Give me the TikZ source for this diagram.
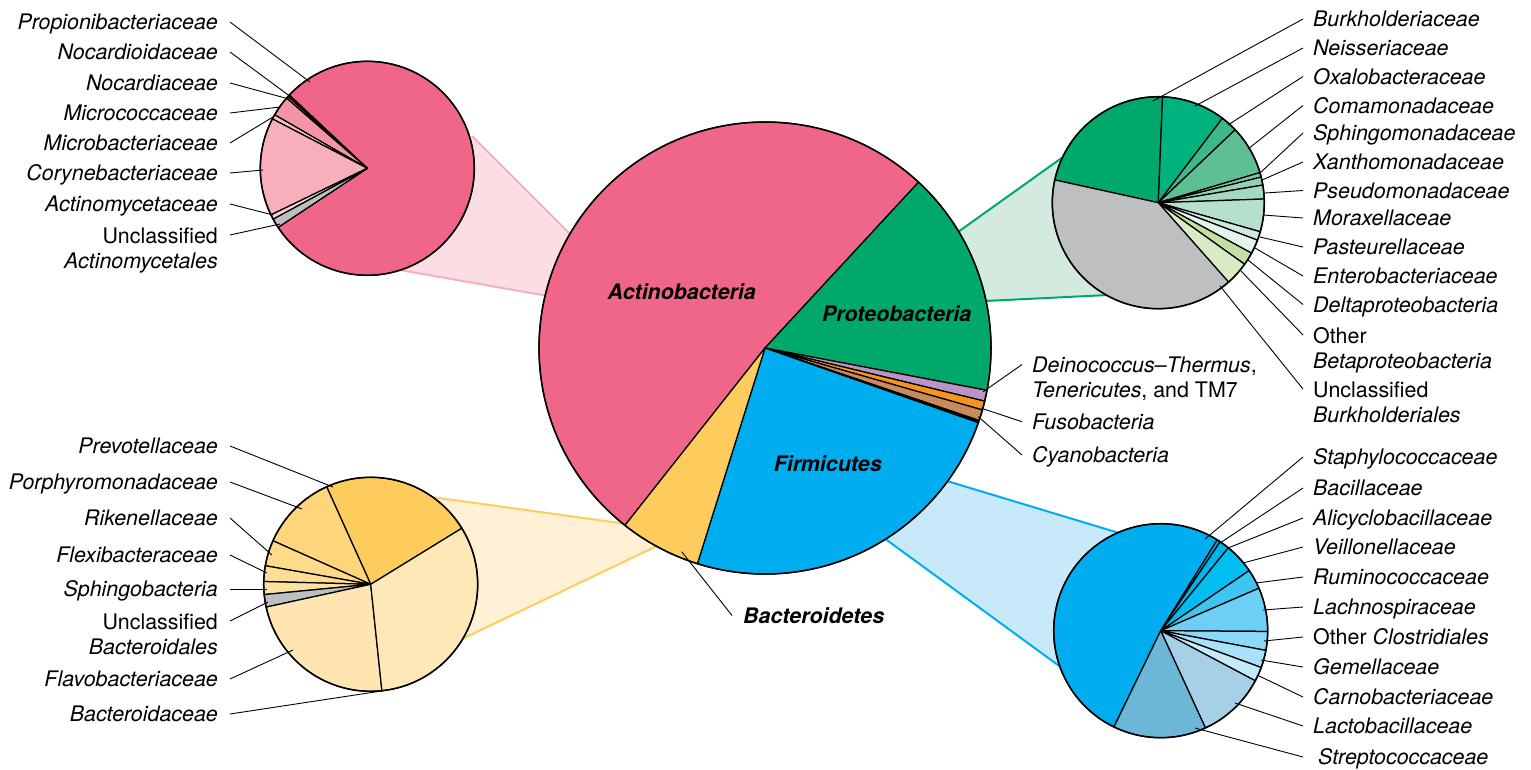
\documentclass[tikz,border=0pt]{standalone}
\usepackage{fontspec}
\setmainfont{TeX Gyre Heros}
\usetikzlibrary{calc}
% central
\definecolor{actino}{HTML}{F06689}
\definecolor{proteo}{HTML}{00A86B}
\definecolor{firmi}{HTML}{00AEEF}
\definecolor{bactero}{HTML}{FECC5C}
\definecolor{deino}{HTML}{B995C5}
\definecolor{fuso}{HTML}{F7941D}
\definecolor{cyano}{HTML}{C98B5B}
\definecolor{greyslice}{HTML}{BEBFC1}
% actino pie
\definecolor{propi}{HTML}{F06689}
\definecolor{noca}{HTML}{F48FA4}
\definecolor{micrococ}{HTML}{F593A7}
\definecolor{microbac}{HTML}{F9C0CB}
\definecolor{coryne}{HTML}{F7AFBB}
\definecolor{actinom}{HTML}{FAD0D8}
% proteo pie
\definecolor{burk}{HTML}{00A86B}
\definecolor{neis}{HTML}{00B27E}
\definecolor{oxal}{HTML}{3CB88A}
\definecolor{coma}{HTML}{5EBF95}
\definecolor{sphingo}{HTML}{7CC8A4}
\definecolor{xantho}{HTML}{93D1B3}
\definecolor{pseudo}{HTML}{A5D8C0}
\definecolor{morax}{HTML}{B6E0CC}
\definecolor{paste}{HTML}{D0EBDE}
\definecolor{entero}{HTML}{E5F3EC}
\definecolor{delta}{HTML}{C3DFA4}
\definecolor{obeta}{HTML}{D9EBC5}
% bactero pie
\definecolor{prevo}{HTML}{FECC5C}
\definecolor{porph}{HTML}{FED57B}
\definecolor{riken}{HTML}{FEDA8A}
\definecolor{flexi}{HTML}{FEDD95}
\definecolor{sphb}{HTML}{FEE09F}
\definecolor{flavo}{HTML}{FEE5B2}
\definecolor{bacda}{HTML}{FEE8B8}
% firmi pie
\definecolor{staph}{HTML}{00AEEF}
\definecolor{bacil}{HTML}{00B0EF}
\definecolor{alicy}{HTML}{00B5EF}
\definecolor{veill}{HTML}{00BDF2}
\definecolor{rumi}{HTML}{3EC5F3}
\definecolor{lachno}{HTML}{6DCFF6}
\definecolor{oclos}{HTML}{8BD8F7}
\definecolor{gemel}{HTML}{A8E1F9}
\definecolor{carno}{HTML}{C5EBFA}
\definecolor{lacto}{HTML}{A5D0E5}
\definecolor{strep}{HTML}{6CB6D6}
% wedges
\definecolor{pinkfill}{HTML}{FCDDE3}
\definecolor{pinkline}{HTML}{F7AEBE}
\definecolor{greenfill}{HTML}{D2EBDE}
\definecolor{greenline}{HTML}{00A86B}
\definecolor{yelfill}{HTML}{FFF0D6}
\definecolor{yelline}{HTML}{FDCD5D}
\definecolor{bluefill}{HTML}{C8E9F8}
\definecolor{blueline}{HTML}{00AEEF}

\newcommand{\slc}[5]{\filldraw[slice,fill=#5] (#1) -- ++(#2:#4) arc[start angle=#2, end angle=#3, radius=#4] -- cycle;}
\newcommand{\rlab}[4]{\node[labR] (#1) at (1313,-#2) {#3};\coordinate (#1p) at (#4);\draw[leader] ([xshift=-10pt]#1.west) -- (#1p);}
\newcommand{\llab}[4]{\node[labL] (#1) at (218,-#2) {#3};\coordinate (#1p) at (#4);\draw[leader] ([xshift=12pt]#1.east) -- (#1p);}

\begin{document}
\begin{tikzpicture}[x=1pt,y=1pt,
  slice/.style={draw=black,line width=1.25pt,line join=round},
  rim/.style={draw=black,line width=1.5pt},
  leader/.style={draw=black,line width=0.9pt},
  lab/.style={font=\fontsize{21.4}{25}\selectfont\itshape, inner sep=0pt, text height=15pt, text depth=0pt},
  labR/.style={lab, anchor=west},
  labL/.style={lab, anchor=east},
  ml/.style={font=\fontsize{21.4}{25}\selectfont, inner sep=0pt},
  big/.style={font=\fontsize{21.4}{25}\selectfont\bfseries\itshape, inner sep=0pt},
  wedge/.style={line width=2pt}
]
\useasboundingbox (0,0) rectangle (1531,-769);

\coordinate (C) at (765,-348);
\coordinate (TL) at (367.3,-168.3);
\coordinate (TR) at (1158.3,-202.7);
\coordinate (BL) at (370.7,-584.3);
\coordinate (BR) at (1160.7,-630.7);

% ---------- wedges ----------
\coordinate (wp1) at (472,-136);
\coordinate (wp2) at (572,-236);
\coordinate (wp3) at (548,-296);
\coordinate (wp4) at (400,-270);
\fill[pinkfill] (wp1) -- (wp2) -- (wp3) -- (wp4) -- cycle;
\draw[wedge,pinkline] (wp1) -- (wp2) (wp4) -- (wp3);

\coordinate (wg1) at (1062,-157.7);
\coordinate (wg2) at (958,-232);
\coordinate (wg3) at (985,-301);
\coordinate (wg4) at (1108,-295);
\fill[greenfill] (wg1) -- (wg2) -- (wg3) -- (wg4) -- cycle;
\draw[wedge,greenline] (wg1) -- (wg2) (wg4) -- (wg3);

\coordinate (wy1) at (432,-497);
\coordinate (wy2) at (627,-524);
\coordinate (wy3) at (659,-545);
\coordinate (wy4) at (462,-639);
\fill[yelfill] (wy1) -- (wy2) -- (wy3) -- (wy4) -- cycle;
\draw[wedge,yelline] (wy1) -- (wy2) (wy4) -- (wy3);

\coordinate (wb1) at (1120,-533.3);
\coordinate (wb2) at (947,-481);
\coordinate (wb3) at (884,-538);
\coordinate (wb4) at (1062,-668);
\fill[bluefill] (wb1) -- (wb2) -- (wb3) -- (wb4) -- cycle;
\draw[wedge,blueline] (wb1) -- (wb2) (wb4) -- (wb3);

% ---------- central pie ----------
\slc{C}{47.2}{231.7}{226}{actino}
\slc{C}{-10.8}{47.2}{226}{proteo}
\slc{C}{-13.6}{-10.8}{226}{deino}
\slc{C}{-15.9}{-13.6}{226}{fuso}
\slc{C}{-18.7}{-15.9}{226}{cyano}
\slc{C}{-19.3}{-18.7}{226}{black}
\slc{C}{-107.4}{-19.3}{226}{firmi}
\slc{C}{-128.3}{-107.4}{226}{bactero}
\draw[rim] (C) circle[radius=226];

% ---------- Actinobacteria pie ----------
\slc{TL}{-146.5}{136.8}{107}{propi}
\slc{TL}{136.8}{137.8}{107}{propi}
\slc{TL}{137.8}{139}{107}{noca}
\slc{TL}{139}{150}{107}{micrococ}
\slc{TL}{150}{152.5}{107}{microbac}
\slc{TL}{152.5}{205.8}{107}{coryne}
\slc{TL}{205.8}{208.4}{107}{actinom}
\slc{TL}{208.4}{213.5}{107}{greyslice}
\draw[rim] (TL) circle[radius=107];

% ---------- Proteobacteria pie ----------
\slc{TR}{87.7}{167.6}{106}{burk}
\slc{TR}{52.8}{87.7}{106}{neis}
\slc{TR}{43.5}{52.8}{106}{oxal}
\slc{TR}{16.5}{43.5}{106}{coma}
\slc{TR}{14}{16.5}{106}{sphingo}
\slc{TR}{9.6}{14}{106}{xantho}
\slc{TR}{2}{9.6}{106}{pseudo}
\slc{TR}{-15.9}{2}{106}{morax}
\slc{TR}{-20.7}{-15.9}{106}{paste}
\slc{TR}{-28.4}{-20.7}{106}{entero}
\slc{TR}{-35.5}{-28.4}{106}{delta}
\slc{TR}{-48.5}{-35.5}{106}{obeta}
\slc{TR}{167.6}{311.5}{106}{greyslice}
\draw[rim] (TR) circle[radius=106];

% ---------- Bacteroidetes pie ----------
\slc{BL}{31.6}{114.3}{107}{prevo}
\slc{BL}{114.3}{156}{107}{porph}
\slc{BL}{156}{170}{107}{riken}
\slc{BL}{170}{178.5}{107}{flexi}
\slc{BL}{178.5}{185.5}{107}{sphb}
\slc{BL}{185.5}{192.3}{107}{greyslice}
\slc{BL}{192.3}{276}{107}{flavo}
\slc{BL}{-84}{31.6}{107}{bacda}
\draw[rim] (BL) circle[radius=107];

% ---------- Firmicutes pie ----------
\slc{BR}{58.1}{244.1}{107}{staph}
\slc{BR}{56.3}{58.1}{107}{bacil}
\slc{BR}{50.8}{56.3}{107}{alicy}
\slc{BR}{34.2}{50.8}{107}{veill}
\slc{BR}{23.4}{34.2}{107}{rumi}
\slc{BR}{-0.4}{23.4}{107}{lachno}
\slc{BR}{-10.6}{-0.4}{107}{oclos}
\slc{BR}{-20.1}{-10.6}{107}{gemel}
\slc{BR}{-27.9}{-20.1}{107}{carno}
\slc{BR}{-65.3}{-27.9}{107}{lacto}
\slc{BR}{-115.9}{-65.3}{107}{strep}
\draw[rim] (BR) circle[radius=107];

% ---------- central labels ----------
\node[big] (actL) at (681.7,-291.7) {Actinobacteria};
\node[big] (proL) at (896.7,-314) {Proteobacteria};
\node[big] (firL) at (827.7,-463.3) {Firmicutes};
\node[big, anchor=west, text height=15pt, text depth=0pt] (bacL) at (743,-615.5) {Bacteroidetes};
\coordinate (bacLp) at (681.7,-551.7);
\draw[leader] ([xshift=-11pt]bacL.west) -- (bacLp);

\node[ml, anchor=north west, align=left] (deiL) at (1032,-356.5) {\textit{Deinococcus–Thermus},\\\textit{Tenericutes}, and TM7};
\coordinate (deiLp) at (983.3,-391.7);
\draw[leader] ([xshift=-10pt,yshift=-8pt]deiL.north west) -- (deiLp);
\node[labR] (fusL) at (1032,-421.7) {Fusobacteria};
\coordinate (fusLp) at (981.7,-408.3);
\draw[leader] ([xshift=-10pt]fusL.west) -- (fusLp);
\node[labR] (cyaL) at (1032,-455) {Cyanobacteria};
\coordinate (cyaLp) at (978.3,-416.7);
\draw[leader] ([xshift=-10pt]cyaL.west) -- (cyaLp);

% ---------- Actinobacteria labels ----------
\llab{lPropi}{22}{Propionibacteriaceae}{310,-82}
\llab{lNocd}{52}{Nocardioidaceae}{291,-97}
\llab{lNoca}{83}{Nocardiaceae}{289,-99}
\llab{lMicc}{113}{Micrococcaceae}{280,-107}
\llab{lMicb}{143}{Microbacteriaceae}{273,-117}
\llab{lCory}{173}{Corynebacteriaceae}{263,-170}
\llab{lActm}{204}{Actinomycetaceae}{273,-215}
\node[ml, anchor=north east, align=right] (lUnA) at (218,-227.5) {Unclassified\\\textit{Actinomycetales}};
\coordinate (lUnAp) at (280,-224);
\draw[leader] ([xshift=12pt,yshift=-7.5pt]lUnA.north east) -- (lUnAp);

% ---------- Proteobacteria labels ----------
\rlab{rBurk}{19}{Burkholderiaceae}{1153,-101}
\rlab{rNeis}{48}{Neisseriaceae}{1195,-106}
\rlab{rOxal}{76.5}{Oxalobacteraceae}{1228,-125}
\rlab{rComa}{105.5}{Comamonadaceae}{1248,-149}
\rlab{rSphi}{133}{Sphingomonadaceae}{1260,-173}
\rlab{rXant}{162}{Xanthomonadaceae}{1262,-180}
\rlab{rPseu}{190.5}{Pseudomonadaceae}{1265,-193}
\rlab{rMora}{218}{Moraxellaceae}{1263,-215}
\rlab{rPast}{247}{Pasteurellaceae}{1260,-237}
\rlab{rEnte}{276}{Enterobacteriaceae}{1255,-248}
\rlab{rDelt}{304.5}{Deltaproteobacteria}{1248,-260}
\node[ml, anchor=north west, align=left] (rOBeta) at (1313,-327.5) {Other\\\textit{Betaproteobacteria}};
\coordinate (rOBetap) at (1240,-270);
\draw[leader] ([xshift=-10pt,yshift=-7.5pt]rOBeta.north west) -- (rOBetap);
\node[ml, anchor=north west, align=left] (rUnB) at (1313,-381.5) {Unclassified\\\textit{Burkholderiales}};
\coordinate (rUnBp) at (1220,-286);
\draw[leader] ([xshift=-10pt,yshift=-7.5pt]rUnB.north west) -- (rUnBp);

% ---------- Bacteroidetes labels ----------
\llab{lPrev}{446}{Prevotellaceae}{333,-487}
\llab{lPorp}{482}{Porphyromonadaceae}{302,-509}
\llab{lRike}{518}{Rikenellaceae}{272,-555}
\llab{lFlex}{555}{Flexibacteraceae}{267,-573}
\llab{lSphb}{589}{Sphingobacteria}{267,-589}
\node[ml, anchor=north east, align=right] (lUnBa) at (218,-613.5) {Unclassified\\\textit{Bacteroidales}};
\coordinate (lUnBap) at (268,-602);
\draw[leader] ([xshift=12pt,yshift=-7.5pt]lUnBa.north east) -- (lUnBap);
\llab{lFlav}{679}{Flavobacteriaceae}{293,-650}
\llab{lBacd}{714}{Bacteroidaceae}{388,-690}

% ---------- Firmicutes labels ----------
\rlab{rStap}{457}{Staphylococcaceae}{1205,-539}
\rlab{rBaci}{488}{Bacillaceae}{1220,-543}
\rlab{rAlic}{518}{Alicyclobacillaceae}{1228,-548}
\rlab{rVeil}{547}{Veillonellaceae}{1243,-563}
\rlab{rRumi}{577}{Ruminococcaceae}{1256,-583}
\rlab{rLach}{607}{Lachnospiraceae}{1263,-610}
\node[labR, font=\fontsize{21.4}{25}\selectfont] (rOClo) at (1313,-637) {Other \textit{Clostridiales}};
\coordinate (rOClop) at (1264,-641);
\draw[leader] ([xshift=-10pt]rOClo.west) -- (rOClop);
\rlab{rGeme}{667}{Gemellaceae}{1261,-660}
\rlab{rCarn}{697}{Carnobacteriaceae}{1257,-675}
\rlab{rLact}{726}{Lactobacillaceae}{1235,-703}
\node[labR] (rStre) at (1318,-757) {Streptococcaceae};
\coordinate (rStrep) at (1195,-728);
\draw[leader] ([xshift=-15pt]rStre.west) -- (rStrep);
\end{tikzpicture}
\end{document}
